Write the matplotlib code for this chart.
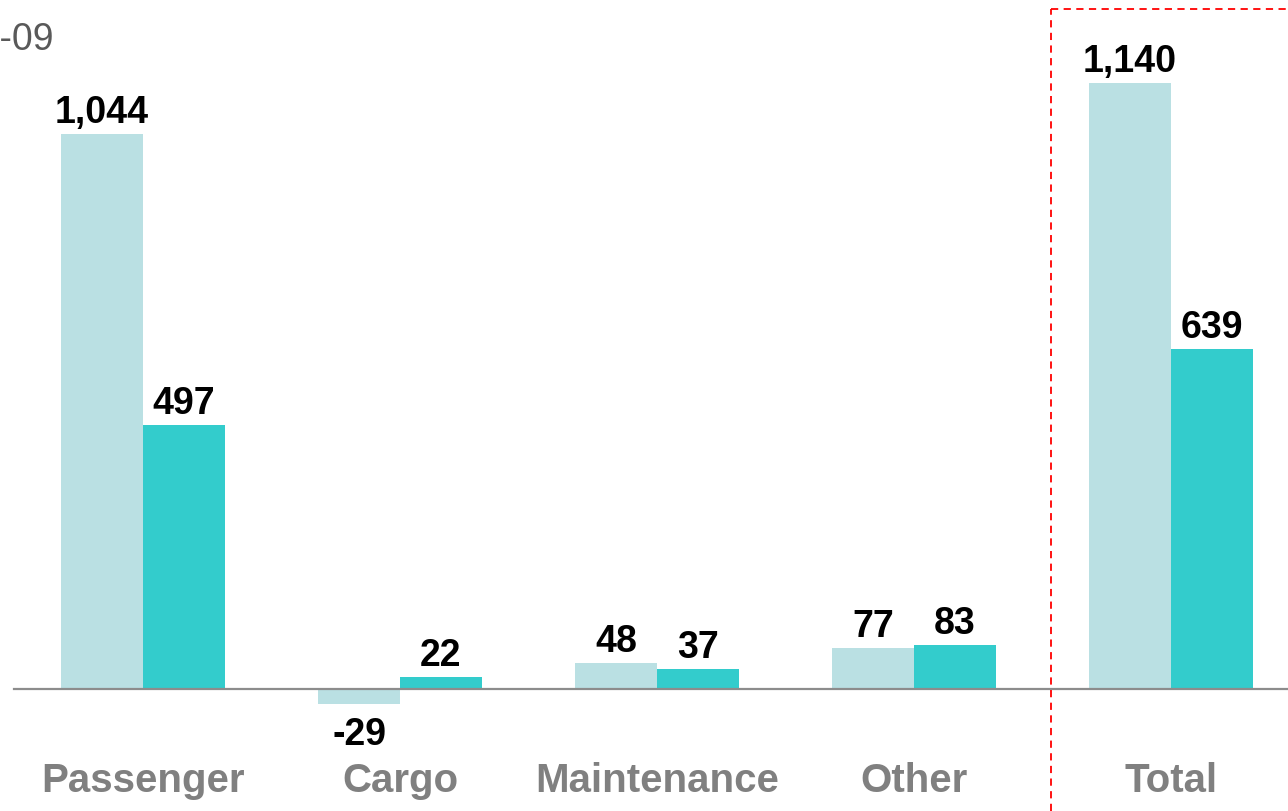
import matplotlib.pyplot as plt
import numpy as np

plt.rcParams['font.family'] = ['Liberation Sans', 'DejaVu Sans']

# data
categories = ['Passenger', 'Cargo', 'Maintenance', 'Other', 'Total']
prev_year = [1044, -29, 48, 77, 1140]
curr_year = [497, 22, 37, 83, 639]
period_label = '2008-09'

light = '#BAE0E3'
dark = '#33CCCC'

W, H = 1288, 812
fig = plt.figure(figsize=(W / 100, H / 100), dpi=100)
ax = fig.add_axes([0, 0, 1, 1])

# pixel geometry: first group centre at 143px, groups 257px apart, zero line at 690px
gap = 257.0
px_per_unit = 0.532
x0, y0 = 143.0, 690.0
ax.set_xlim(-x0 / gap, (W - x0) / gap)
ax.set_ylim(-(H - y0) / px_per_unit, y0 / px_per_unit)
ax.axis('off')

x = np.arange(len(categories))
bw = 82 / gap
ax.bar(x - bw / 2, prev_year, width=bw, color=light)
ax.bar(x + bw / 2, curr_year, width=bw, color=dark)

ax.axhline(0, xmin=14 / W, xmax=1, color='#8C8C8C', lw=1.6)

off = 12 / px_per_unit
for xs, vals in ((x - bw / 2, prev_year), (x + bw / 2, curr_year)):
    for xi, v in zip(xs, vals):
        if v >= 0:
            ax.text(xi, v + off, f'{v:,}', ha='center', va='baseline',
                    fontsize=27, fontweight='bold', color='black')
        else:
            ax.text(xi, v - off, f'{v:,}', ha='center', va='top',
                    fontsize=27, fontweight='bold', color='black')

for xi, c in zip(x, categories):
    ax.text(xi, -(792 - y0) / px_per_unit, c, ha='center', va='baseline',
            fontsize=29, fontweight='bold', color='#808080')

# period label, partly cut off at the left edge (as in the source)
fig.text(54 / W, 1 - 50 / H, period_label, ha='right', va='baseline',
         fontsize=27, color='#595959')

# red dashed frame around the total
fx, fy = 1051 / W, 1 - 10 / H
fig.add_artist(plt.Line2D([fx, fx], [0, fy], transform=fig.transFigure,
                          color='red', lw=1.3, ls=(0, (4, 3))))
fig.add_artist(plt.Line2D([fx, 1], [fy, fy], transform=fig.transFigure,
                          color='red', lw=1.3, ls=(0, (4, 3))))

fig.savefig('out.png', dpi=100)
